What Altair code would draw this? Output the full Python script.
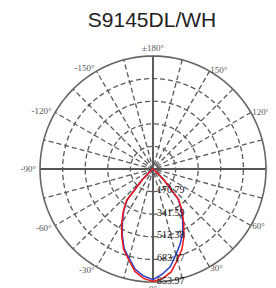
import altair as alt
import pandas as pd
import numpy as np

TITLE = "S9145DL/WH"

# Candela curves (angle in degrees measured from nadir, + to the right)
curve_angles = [-90, -85, -80, -75, -70, -65, -60, -55, -50, -45, -40, -35, -30, -25, -20, -15, -10, -5,
                0, 5, 10, 15, 20, 25, 30, 35, 40, 45, 50, 55, 60, 65, 70, 75, 80, 85, 90]
red_values = [0, 0, 0, 1, 2, 3, 5, 10, 30, 112, 310, 392, 472, 560, 648, 710, 786, 830,
              850, 832, 790, 712, 642, 556, 462, 382, 302, 110, 28, 10, 5, 3, 2, 1, 0, 0, 0]
blue_values = [0, 0, 0, 1, 1, 2, 4, 9, 28, 108, 302, 385, 462, 550, 638, 698, 770, 812,
               836, 798, 750, 670, 602, 532, 448, 372, 294, 106, 26, 9, 4, 2, 1, 1, 0, 0, 0]

ring_values = [170.79, 341.59, 512.38, 683.17, 853.97]
ring_texts = ["170.79", "341.59", "512.38", "683.17", "853.97"]

spoke_dashed = [15, 30, 45, 60, 75, 105, 120, 135, 150, 165]
spoke_solid = [0, 90]

label_angles = [0, 30, 60, 90, 120, 150, 180, -150, -120, -90, -60, -30]
label_texts = ["0°", "30°", "60°", "90°", "120°", "150°", "±180°", "-150°", "-120°", "-90°", "-60°", "-30°"]

# ---- layout ----
RMAX = ring_values[-1]
R_PX = 113.0
s = R_PX / RMAX
W, H = 260, 240
CX, CY = 145.0, 121.0
xdom = [-CX / s, (W - CX) / s]
ydom = [-(H - CY) / s, CY / s]
xs = alt.Scale(domain=xdom, nice=False, zero=False)
ys = alt.Scale(domain=ydom, nice=False, zero=False)
GRID = "#5a5a5a"

def X(f="x"):
    return alt.X(f"{f}:Q", scale=xs, axis=None)

def Y(f="y"):
    return alt.Y(f"{f}:Q", scale=ys, axis=None)

# rings
theta_steps = list(range(0, 361, 3))
ring_df = pd.DataFrame([(r, t) for r in ring_values for t in theta_steps], columns=["r", "t"])
ring_df["outer"] = ring_df["r"] == RMAX
ring_calc = dict(x="datum.r*sin(datum.t*PI/180)", y="-datum.r*cos(datum.t*PI/180)")

inner_rings = alt.Chart(ring_df).transform_filter("!datum.outer").transform_calculate(**ring_calc).mark_line(
    color=GRID, strokeWidth=1.3, strokeDash=[5, 3]).encode(x=X(), y=Y(), detail="r:N", order="t:Q")
outer_ring = alt.Chart(ring_df).transform_filter("datum.outer").transform_calculate(**ring_calc).mark_line(
    color="#666666", strokeWidth=1.6).encode(x=X(), y=Y(), order="t:Q")

# small center ring
center_df = pd.DataFrame({"t": theta_steps})
center_ring = alt.Chart(center_df).transform_calculate(
    x="38*sin(datum.t*PI/180)", y="-38*cos(datum.t*PI/180)").mark_line(
    color=GRID, strokeWidth=1.0, strokeDash=[2, 1.5]).encode(x=X(), y=Y(), order="t:Q")

spoke_calc = dict(x=f"{RMAX}*sin(datum.a*PI/180)", y=f"-{RMAX}*cos(datum.a*PI/180)",
                  x2=f"-{RMAX}*sin(datum.a*PI/180)", y2=f"{RMAX}*cos(datum.a*PI/180)")
dashed_spokes = alt.Chart(pd.DataFrame({"a": spoke_dashed})).transform_calculate(**spoke_calc).mark_rule(
    color=GRID, strokeWidth=1.3, strokeDash=[5, 3]).encode(x=X(), y=Y(), x2="x2:Q", y2="y2:Q")
solid_spokes = alt.Chart(pd.DataFrame({"a": spoke_solid})).transform_calculate(**spoke_calc).mark_rule(
    color="#555555", strokeWidth=1.9).encode(x=X(), y=Y(), x2="x2:Q", y2="y2:Q")

# curves
curve_calc = dict(x="datum.v*sin(datum.a*PI/180)", y="-datum.v*cos(datum.a*PI/180)")
blue_line = alt.Chart(pd.DataFrame({"a": curve_angles, "v": blue_values})).transform_calculate(
    **curve_calc).mark_line(color="#2f3fc4", strokeWidth=1.5).encode(x=X(), y=Y(), order="a:Q")
red_line = alt.Chart(pd.DataFrame({"a": curve_angles, "v": red_values})).transform_calculate(
    **curve_calc).mark_line(color="#f01818", strokeWidth=1.5).encode(x=X(), y=Y(), order="a:Q")

# ring value labels
ring_lab = alt.Chart(pd.DataFrame({"r": ring_values, "txt": ring_texts})).transform_calculate(
    x="0", y="-datum.r").mark_text(align="left", baseline="middle", dx=4, dy=-1.5,
                                    font="Liberation Serif", fontSize=10, color="#111111").encode(
    x=X(), y=Y(), text="txt:N")

# angle labels
lab_df = pd.DataFrame({"a": label_angles, "txt": label_texts})
lab_style = dict(font="Liberation Serif", fontSize=9, color="#555555")

def ang_layer(flt, gap_px, **kw):
    lr = RMAX + gap_px / s
    return alt.Chart(lab_df).transform_filter(flt).transform_calculate(
        x=f"{lr}*sin(datum.a*PI/180)", y=f"-{lr}*cos(datum.a*PI/180)").mark_text(
        **lab_style, **kw).encode(x=X(), y=Y(), text="txt:N")

lab_right = ang_layer("datum.a > 0 && datum.a < 180", 1.5, align="left", baseline="middle")
lab_left = ang_layer("datum.a < 0", 4, align="right", baseline="middle")
lab_top = ang_layer("datum.a == 180", 3, align="center", baseline="bottom")
lab_bot = ang_layer("datum.a == 0", 3, align="center", baseline="top")

chart = alt.layer(
    inner_rings, center_ring, dashed_spokes, solid_spokes, outer_ring,
    blue_line, red_line, ring_lab, lab_right, lab_left, lab_top, lab_bot
).properties(
    width=W, height=H,
    title=alt.TitleParams(TITLE, fontSize=21, font="Liberation Sans", fontWeight="normal",
                          color="#222222", anchor="middle", dx=14, dy=-9),
    autosize=alt.AutoSizeParams(type="none"),
    padding={"top": 40, "left": 0, "right": 0, "bottom": 0},
).configure_view(strokeWidth=0)

chart.save("out.html", embed_options={"renderer": "svg", "actions": False})
